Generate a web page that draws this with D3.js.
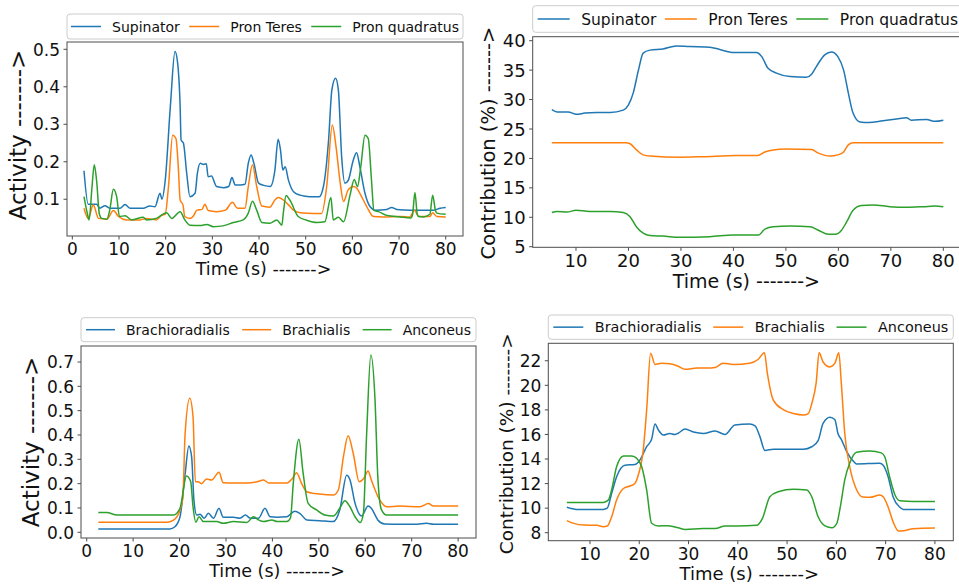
<!DOCTYPE html>
<html><head><meta charset="utf-8">
<script src="https://cdn.jsdelivr.net/npm/d3@7"></script>
<style>body{margin:0;background:#fff;} svg{display:block;font-family:"DejaVu Sans",sans-serif;}</style>
</head><body><svg id="c" width="959" height="588"></svg>
<script>
// ---------- DATA ----------
const timeTicksFrom0 = [0,10,20,30,40,50,60,70,80];
const timeTicksFrom10 = [10,20,30,40,50,60,70,80];
const activityTicksTop = [0.1,0.2,0.3,0.4,0.5];
const contributionTicksTop = [5,10,15,20,25,30,35,40];
const activityTicksBottom = [0.0,0.1,0.2,0.3,0.4,0.5,0.6,0.7];
const contributionTicksBottom = [8,10,12,14,16,18,20,22];

const topMuscles = ["Supinator","Pron Teres","Pron quadratus"];
const bottomMuscles = ["Brachioradialis","Brachialis","Anconeus"];

// [time (s), activity]
const supinatorActivity = [[2.5,0.176],[3.4,0.087],[5.2,0.087],[5.9,0.076],[7,0.083],[8,0.076],[10.2,0.076],[11.3,0.086],[12.4,0.076],[15.2,0.076],[16.6,0.082],[17.7,0.08],[18.8,0.116],[19.2,0.10],[19.9,0.15],[21,0.347],[22,0.494],[22.5,0.47],[23.1,0.347],[23.3,0.258],[23.8,0.25],[24.5,0.17],[25.2,0.107],[26.3,0.116],[26.8,0.17],[27.4,0.196],[28.1,0.193],[28.7,0.195],[29.1,0.16],[29.8,0.162],[30.9,0.134],[32.4,0.131],[33.5,0.134],[34.2,0.158],[34.9,0.138],[36,0.138],[37,0.14],[37.7,0.196],[38.3,0.218],[38.9,0.196],[39.9,0.143],[41,0.137],[42.4,0.134],[43.4,0.178],[44.1,0.26],[44.6,0.231],[45.1,0.178],[45.6,0.187],[46.3,0.151],[47.4,0.12],[48.8,0.111],[50.9,0.107],[52.9,0.107],[53.8,0.134],[54.9,0.258],[55.6,0.391],[56.4,0.423],[57,0.391],[57.7,0.214],[58.4,0.143],[59.1,0.15],[60.2,0.205],[60.9,0.224],[61.6,0.187],[62.7,0.116],[63.8,0.08],[64.9,0.071],[67.4,0.073],[68.4,0.078],[69.5,0.073],[72.4,0.071],[77.4,0.071],[78.8,0.076],[80,0.078]];
const pronTeresActivity = [[2.5,0.076],[3.4,0.049],[4.5,0.085],[5.6,0.049],[7.4,0.047],[8.8,0.07],[9.9,0.054],[11.6,0.045],[14.5,0.045],[15.9,0.049],[18,0.045],[19.2,0.058],[19.9,0.06],[20.6,0.134],[21.5,0.271],[22.2,0.262],[22.7,0.187],[23.1,0.098],[23.7,0.085],[24.1,0.054],[25.2,0.049],[25.9,0.055],[26.7,0.071],[27.8,0.073],[28.4,0.087],[29.1,0.07],[30.9,0.067],[32.8,0.071],[34.3,0.092],[35.4,0.076],[37,0.076],[37.7,0.134],[38.6,0.192],[39.5,0.134],[40.6,0.082],[42.3,0.079],[43.4,0.098],[44.1,0.105],[45.2,0.098],[46.3,0.085],[47.4,0.071],[48.8,0.064],[51.7,0.062],[53.4,0.062],[54.5,0.134],[55.7,0.298],[56.5,0.24],[57.4,0.143],[58.1,0.094],[59.1,0.125],[60.2,0.134],[60.9,0.13],[61.6,0.116],[63.1,0.08],[64.5,0.054],[66.6,0.053],[70.2,0.054],[72.3,0.053],[73.3,0.071],[74.2,0.054],[76.6,0.054],[77.2,0.064],[78.1,0.054],[80,0.053]];
const pronQuadratusActivity = [[2.5,0.107],[3.2,0.063],[3.6,0.045],[4.2,0.13],[4.7,0.192],[5.2,0.15],[5.8,0.06],[6.3,0.049],[7.4,0.047],[8.0,0.07],[8.8,0.127],[9.5,0.107],[10.1,0.054],[11.3,0.056],[12.7,0.045],[15.2,0.052],[15.9,0.045],[18,0.049],[20.2,0.064],[21.3,0.049],[23.1,0.067],[24.1,0.045],[25.2,0.031],[27.4,0.03],[28.8,0.033],[30.2,0.027],[32.3,0.029],[34.5,0.038],[36.6,0.045],[37.7,0.063],[38.6,0.095],[39.5,0.071],[40.6,0.038],[42.3,0.036],[43.8,0.045],[44.9,0.031],[45.2,0.063],[45.8,0.11],[46.6,0.098],[48.4,0.054],[50.2,0.044],[52.4,0.038],[54.1,0.04],[55.4,0.105],[55.9,0.045],[57,0.052],[58.1,0.04],[59.5,0.111],[60.4,0.153],[61.1,0.134],[61.8,0.187],[62.7,0.271],[63.4,0.262],[64.1,0.15],[64.6,0.071],[65.6,0.067],[67.4,0.057],[70.2,0.053],[72.5,0.05],[72.9,0.06],[73.4,0.118],[73.9,0.06],[74.2,0.054],[75.2,0.053],[76.6,0.06],[77.2,0.111],[77.8,0.07],[78.1,0.063],[80,0.06]];

// [time (s), contribution %]
const supinatorContribution = [[5.4,28.3],[6.4,27.9],[8.5,27.9],[10.1,27.5],[11.7,27.7],[13.9,27.8],[16.5,27.8],[19,28.2],[20,29.1],[20.9,31.1],[21.9,35],[22.8,37.9],[24.1,38.4],[26.6,38.6],[29.1,39.1],[31.6,39.0],[35.5,38.9],[37.4,38.5],[40,38.0],[44.4,38.0],[45.4,37.3],[46.6,35.3],[48.2,34.5],[50.8,33.9],[53.9,33.8],[54.9,34.3],[55.8,35.6],[57.4,37.6],[58.7,38.1],[59.9,37.3],[61,35],[61.9,31.1],[62.8,27.7],[64.1,26.2],[65.8,26.1],[68.5,26.4],[71.1,26.7],[73,26.9],[73.9,26.5],[76.8,26.6],[78.4,26.3],[80,26.5]];
const pronTeresContribution = [[5.4,22.67],[19.5,22.67],[20.3,22.5],[21.6,21.4],[22.8,20.6],[24.1,20.4],[29.8,20.2],[34.2,20.3],[40.6,20.5],[44.6,20.5],[46,21.1],[47.3,21.4],[50.1,21.6],[54.9,21.5],[56.2,20.9],[58.4,20.4],[59.9,20.6],[60.9,21],[61.9,22.3],[62.8,22.67],[80,22.67]];
const pronQuadratusContribution = [[5.4,10.8],[6.4,11.0],[8.3,10.9],[10,11.2],[12.6,11.0],[16.5,11.0],[19,10.8],[20.3,10.1],[21.5,8.4],[22.8,7.3],[24.1,6.9],[26.6,6.8],[29.8,6.6],[35.5,6.7],[40,7.0],[44.8,7.0],[46,8.0],[47.6,8.4],[50.8,8.5],[54.6,8.4],[56.2,7.8],[58.1,7.1],[59.4,7.1],[60.6,7.8],[61.6,9.25],[62.8,11.2],[64.4,12.0],[66.6,12.1],[69.8,11.8],[73,11.7],[76.2,11.8],[78.4,11.9],[80,11.8]];

const brachioradialisActivity = [[2.5,0.014],[17.9,0.014],[19,0.023],[20.1,0.064],[21.2,0.24],[22,0.355],[22.6,0.31],[23.1,0.13],[23.7,0.071],[24.4,0.074],[25.3,0.058],[26.2,0.078],[27.3,0.058],[28.5,0.099],[29.4,0.062],[31.6,0.062],[33,0.058],[34.2,0.071],[35.2,0.058],[37,0.058],[38.4,0.099],[39.5,0.064],[41,0.062],[43.1,0.064],[44.8,0.087],[45.9,0.078],[47.4,0.051],[50.2,0.048],[53.1,0.044],[54.5,0.092],[56,0.235],[56.7,0.216],[57.8,0.119],[59.2,0.067],[60.6,0.108],[61.3,0.099],[62.7,0.051],[64.2,0.034],[67.4,0.033],[71.1,0.033],[73.2,0.037],[74.7,0.033],[80,0.033]];
const brachialisActivity = [[2.5,0.041],[17.2,0.041],[18.7,0.05],[20.1,0.092],[20.7,0.14],[21.2,0.407],[22.2,0.551],[22.9,0.475],[23.4,0.208],[24,0.208],[24.7,0.2],[25.8,0.219],[26.9,0.215],[28.5,0.247],[29.4,0.204],[31.6,0.203],[34.5,0.203],[36.7,0.208],[38.1,0.215],[39.2,0.203],[43.1,0.203],[44.3,0.221],[45.2,0.245],[46.3,0.2],[47.4,0.167],[50.2,0.157],[53.1,0.153],[54.2,0.174],[55.3,0.311],[56.3,0.397],[57.4,0.325],[58.7,0.208],[59.7,0.222],[60.6,0.252],[61.3,0.215],[63.1,0.133],[64.6,0.105],[67.4,0.108],[71.8,0.105],[73.6,0.118],[74.7,0.108],[80,0.108]];
const anconeusActivity = [[2.5,0.081],[4.3,0.081],[6.5,0.071],[18.7,0.071],[20.1,0.099],[21.5,0.231],[22.4,0.208],[22.9,0.105],[23.5,0.041],[24.2,0.064],[25.1,0.044],[28,0.044],[29.4,0.037],[31.6,0.044],[34.5,0.04],[35.9,0.064],[37,0.051],[38.1,0.044],[39.9,0.051],[41,0.044],[43.1,0.044],[43.9,0.06],[44.5,0.203],[45.7,0.382],[46.6,0.245],[47.7,0.119],[49.5,0.092],[51.3,0.071],[53.1,0.067],[54.5,0.099],[55.6,0.13],[56.7,0.105],[57.8,0.064],[58.9,0.04],[59.6,0.078],[60.3,0.407],[61.2,0.729],[62.1,0.544],[62.7,0.228],[63.5,0.092],[64.6,0.071],[80,0.071]];

const brachioradialisContribution = [[5.3,10.07],[7.3,9.9],[12.7,9.9],[13.5,10.0],[14.4,11.2],[15.4,12.56],[17.1,13.5],[19.1,13.55],[20.1,13.9],[21.5,15],[22.5,15.6],[23.2,16.85],[23.9,16.35],[24.9,15.95],[26.2,16.08],[27.2,16.0],[27.9,16.1],[29.3,16.44],[31,16.2],[33,16.08],[35.4,16.28],[37.4,16.0],[39.4,16.77],[42.4,16.85],[43.5,16.7],[44.5,15.8],[45.5,14.7],[47.2,14.8],[53.3,14.8],[55,15.0],[56.3,15.5],[57.3,16.9],[58.7,17.4],[59.7,17.2],[60.3,16.1],[61,15.6],[62.1,14.6],[63.5,13.8],[64.1,13.6],[68.8,13.65],[69.5,13.5],[70.5,12.56],[71.5,10.93],[72.9,10.07],[73.6,9.9],[80,9.9]];
const brachialisContribution = [[5.3,8.98],[6.7,8.76],[8.7,8.62],[11.4,8.6],[12.7,8.49],[13.5,8.54],[14.4,9.3],[15.4,10.66],[16.8,11.6],[18.1,11.8],[19.1,12.0],[19.8,12.7],[20.8,14.7],[21.5,17.99],[22.3,22.6],[23.2,21.7],[24.5,21.8],[26.2,21.75],[27.9,21.55],[29.3,21.3],[31.7,21.4],[33.7,21.4],[35.4,21.45],[37,21.8],[39.1,21.7],[42.4,21.8],[44.1,22.1],[45.4,22.65],[46,20.97],[47.2,18.8],[49.3,18.0],[51.3,17.7],[53.3,17.58],[54.3,17.7],[55,18.5],[55.9,20.2],[56.5,22.65],[57.3,21.9],[58.7,21.5],[59.7,21.8],[60.5,22.65],[61,20.2],[61.7,16.1],[62.7,13.4],[64.1,11.5],[65.4,10.9],[66.8,10.88],[68.8,11.07],[69.5,10.93],[70.5,10.1],[71.5,8.9],[72.6,8.14],[73.6,8.16],[75.6,8.33],[80,8.38]];
const anconeusContribution = [[5.3,10.47],[12.7,10.47],[13.7,10.65],[14.4,11.5],[15.4,13.37],[16.8,14.24],[18.5,14.24],[19.5,14.05],[20.5,13.37],[21.5,11.48],[22.5,8.77],[23.9,8.55],[25.6,8.57],[27.9,8.4],[29.3,8.27],[33,8.34],[35.4,8.34],[37.4,8.55],[39.8,8.55],[43.8,8.6],[45,9.17],[46.5,10.93],[48.2,11.34],[51.3,11.53],[54,11.48],[55,10.93],[56.3,9.3],[57.7,8.55],[59.1,8.4],[60.1,8.77],[60.8,10.1],[61.7,12.3],[62.7,13.65],[64.1,14.55],[66.8,14.65],[69.1,14.5],[69.8,14.2],[70.8,12.56],[71.9,11.07],[72.9,10.6],[75.6,10.55],[80,10.55]];

const colors = ["#1f77b4","#ff7f0e","#2ca02c"];

// ---------- LAYOUT ----------
const panels = [
  { frame:{x0:67,x1:463,y0:42,y1:236}, xDom:[-1.14,83.7], yDom:[0.002,0.5195],
    xTicks:timeTicksFrom0, yTicks:activityTicksTop, yFmt:d3.format(".1f"), tickFont:17, xTickOff:19,
    series:[supinatorActivity,pronTeresActivity,pronQuadratusActivity], names:topMuscles,
    xLabel:{y:275, size:17.5}, yLabel:{text:"Activity ------->", x:26, cy:135, size:23},
    legend:{x0:67,x1:463,y0:14,y1:39, size:14, hl:30, gap:11, pad:4}},
  { frame:{x0:532.7,x1:963,y0:36.7,y1:247.3}, xDom:[1.75,83.75], yDom:[4.9,40.68],
    xTicks:timeTicksFrom10, yTicks:contributionTicksTop, yFmt:d3.format("d"), tickFont:18, xTickOff:20,
    series:[supinatorContribution,pronTeresContribution,pronQuadratusContribution], names:topMuscles,
    xLabel:{y:288, size:19}, yLabel:{text:"Contribution (%) ------->", x:495, cy:143, size:19.5},
    legend:{x0:532.7,x1:963,y0:5.7,y1:32.3, size:15.5, hl:32, gap:11.5, pad:5}},
  { frame:{x0:81,x1:476,y0:346,y1:538}, xDom:[-1.23,83.85], yDom:[-0.0234,0.7658],
    xTicks:timeTicksFrom0, yTicks:activityTicksBottom, yFmt:d3.format(".1f"), tickFont:17, xTickOff:19.4,
    series:[brachioradialisActivity,brachialisActivity,anconeusActivity], names:bottomMuscles,
    xLabel:{y:576.5, size:17.5}, yLabel:{text:"Activity ------->", x:39, cy:442, size:23},
    legend:{x0:81,x1:476,y0:317.7,y1:341.7, size:14, hl:29, gap:11, pad:5}},
  { frame:{x0:548.3,x1:953.3,y0:343.3,y1:540.7}, xDom:[1.54,83.73], yDom:[7.35,23.42],
    xTicks:timeTicksFrom10, yTicks:contributionTicksBottom, yFmt:d3.format("d"), tickFont:17, xTickOff:19.3,
    series:[brachioradialisContribution,brachialisContribution,anconeusContribution], names:bottomMuscles,
    xLabel:{y:580, size:18}, yLabel:{text:"Contribution (%) ------->", x:513, cy:443.7, size:18.5},
    legend:{x0:548.3,x1:953.3,y0:315,y1:339.3, size:14.4, hl:30, gap:11.5, pad:5}}
];

const svg = d3.select("#c");
svg.append("rect").attr("width",959).attr("height",588).attr("fill","#fff");
const tickLen = 3.5, frameColor = "#4d4d4d", textColor = "#111";

panels.forEach(p => {
  const f = p.frame;
  const x = d3.scaleLinear().domain(p.xDom).range([f.x0, f.x1]);
  const y = d3.scaleLinear().domain(p.yDom).range([f.y1, f.y0]);
  const g = svg.append("g");

  // lines
  const line = d3.line().x(d => x(d[0])).y(d => y(d[1])).curve(d3.curveMonotoneX);
  p.series.forEach((s, i) => {
    g.append("path").datum(s).attr("d", line).attr("fill","none")
      .attr("stroke", colors[i]).attr("stroke-width",1.5).attr("stroke-linejoin","round");
  });

  // frame
  g.append("rect").attr("x",f.x0).attr("y",f.y0).attr("width",f.x1-f.x0).attr("height",f.y1-f.y0)
    .attr("fill","none").attr("stroke",frameColor).attr("stroke-width",1);

  // x axis ticks
  const xa = g.append("g");
  p.xTicks.forEach(t => {
    xa.append("line").attr("x1",x(t)).attr("x2",x(t)).attr("y1",f.y1).attr("y2",f.y1+tickLen)
      .attr("stroke",frameColor).attr("stroke-width",1);
    xa.append("text").attr("x",x(t)).attr("y",f.y1+p.xTickOff).attr("text-anchor","middle")
      .attr("font-size",p.tickFont).attr("fill",textColor).text(d3.format("d")(t));
  });
  // y axis ticks
  p.yTicks.forEach(t => {
    xa.append("line").attr("x1",f.x0-tickLen).attr("x2",f.x0).attr("y1",y(t)).attr("y2",y(t))
      .attr("stroke",frameColor).attr("stroke-width",1);
    xa.append("text").attr("x",f.x0-tickLen-3.5).attr("y",y(t)+0.365*p.tickFont).attr("text-anchor","end")
      .attr("font-size",p.tickFont).attr("fill",textColor).text(p.yFmt(t));
  });

  // axis labels
  g.append("text").attr("x",(f.x0+Math.min(f.x1,959+4))/2 - 1.5).attr("y",p.xLabel.y)
    .attr("text-anchor","middle").attr("font-size",p.xLabel.size).attr("fill",textColor)
    .text("Time (s) ------->");
  g.append("text").attr("transform",`translate(${p.yLabel.x},${p.yLabel.cy}) rotate(-90)`)
    .attr("text-anchor","middle").attr("font-size",p.yLabel.size).attr("fill",textColor)
    .text(p.yLabel.text);

  // legend (expand mode)
  const L = p.legend;
  const lg = svg.append("g");
  lg.append("rect").attr("x",L.x0).attr("y",L.y0).attr("width",L.x1-L.x0).attr("height",L.y1-L.y0)
    .attr("rx",3).attr("fill","#fff").attr("fill-opacity",0.85).attr("stroke","#cccccc").attr("stroke-width",1);
  const cy = (L.y0+L.y1)/2;
  const texts = p.names.map(n => lg.append("text").attr("font-size",L.size).attr("fill",textColor).text(n));
  const widths = texts.map(t => t.node().getComputedTextLength());
  const used = L.pad*2 + 3*(L.hl+L.gap) + d3.sum(widths);
  const colGap = ((L.x1-L.x0) - used)/2;
  let cx = L.x0 + L.pad;
  p.names.forEach((n,i) => {
    lg.append("line").attr("x1",cx).attr("x2",cx+L.hl).attr("y1",cy).attr("y2",cy)
      .attr("stroke",colors[i]).attr("stroke-width",1.5);
    texts[i].attr("x",cx+L.hl+L.gap).attr("y",cy+0.36*L.size);
    cx += L.hl + L.gap + widths[i] + colGap;
  });
});
</script></body></html>
